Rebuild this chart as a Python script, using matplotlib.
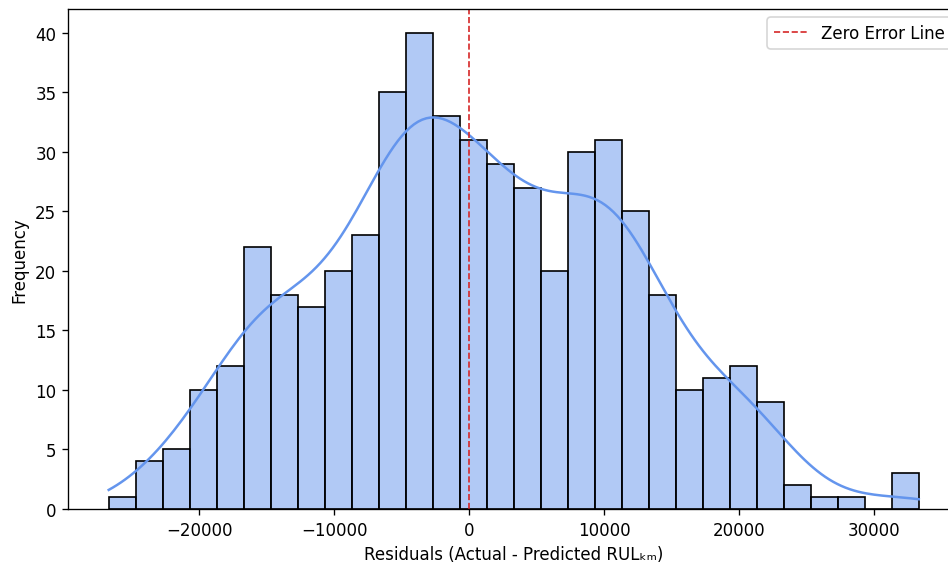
import numpy as np
import pandas as pd
import matplotlib
matplotlib.use("Agg")
import matplotlib.pyplot as plt
import seaborn as sns

# histogram: 30 bins of 2000 km starting at -26700
bin_start = -26700
bin_width = 2000
counts = [1, 4, 5, 10, 12, 22, 18, 17, 20, 23,
          35, 40, 33, 31, 29, 27, 20, 30, 31, 25,
          18, 10, 11, 12, 9, 2, 1, 1, 0, 3]

def main():
    edges = bin_start + bin_width * np.arange(len(counts) + 1)
    centers = edges[:-1] + bin_width / 2
    # one row per residual (bin centre repeated by its count)
    df = pd.DataFrame({'residual': np.repeat(centers, counts)})

    fig = plt.figure(figsize=(7.9, 4.7083), dpi=120)
    ax = fig.add_axes([68 / 948, 55 / 565, 891.5 / 948, 500 / 565])

    sns.histplot(data=df, x='residual', bins=list(edges),
                 kde=True, color='cornflowerblue', edgecolor='black',
                 linewidth=1.0, kde_kws={'cut': 0.3}, ax=ax)
    ax.axvline(0, color='tab:red', linestyle='--', linewidth=1.0,
               label='Zero Error Line')

    ax.set_xlim(edges[0] - 0.05 * (edges[-1] - edges[0]),
                edges[-1] + 0.05 * (edges[-1] - edges[0]))
    ax.set_xlabel('Residuals (Actual - Predicted RUL\u2096\u2098)')
    ax.set_ylabel('Frequency')
    ax.legend(loc='upper right')

    fig.savefig('out.png', dpi=120)

if __name__ == "__main__":
    main()
